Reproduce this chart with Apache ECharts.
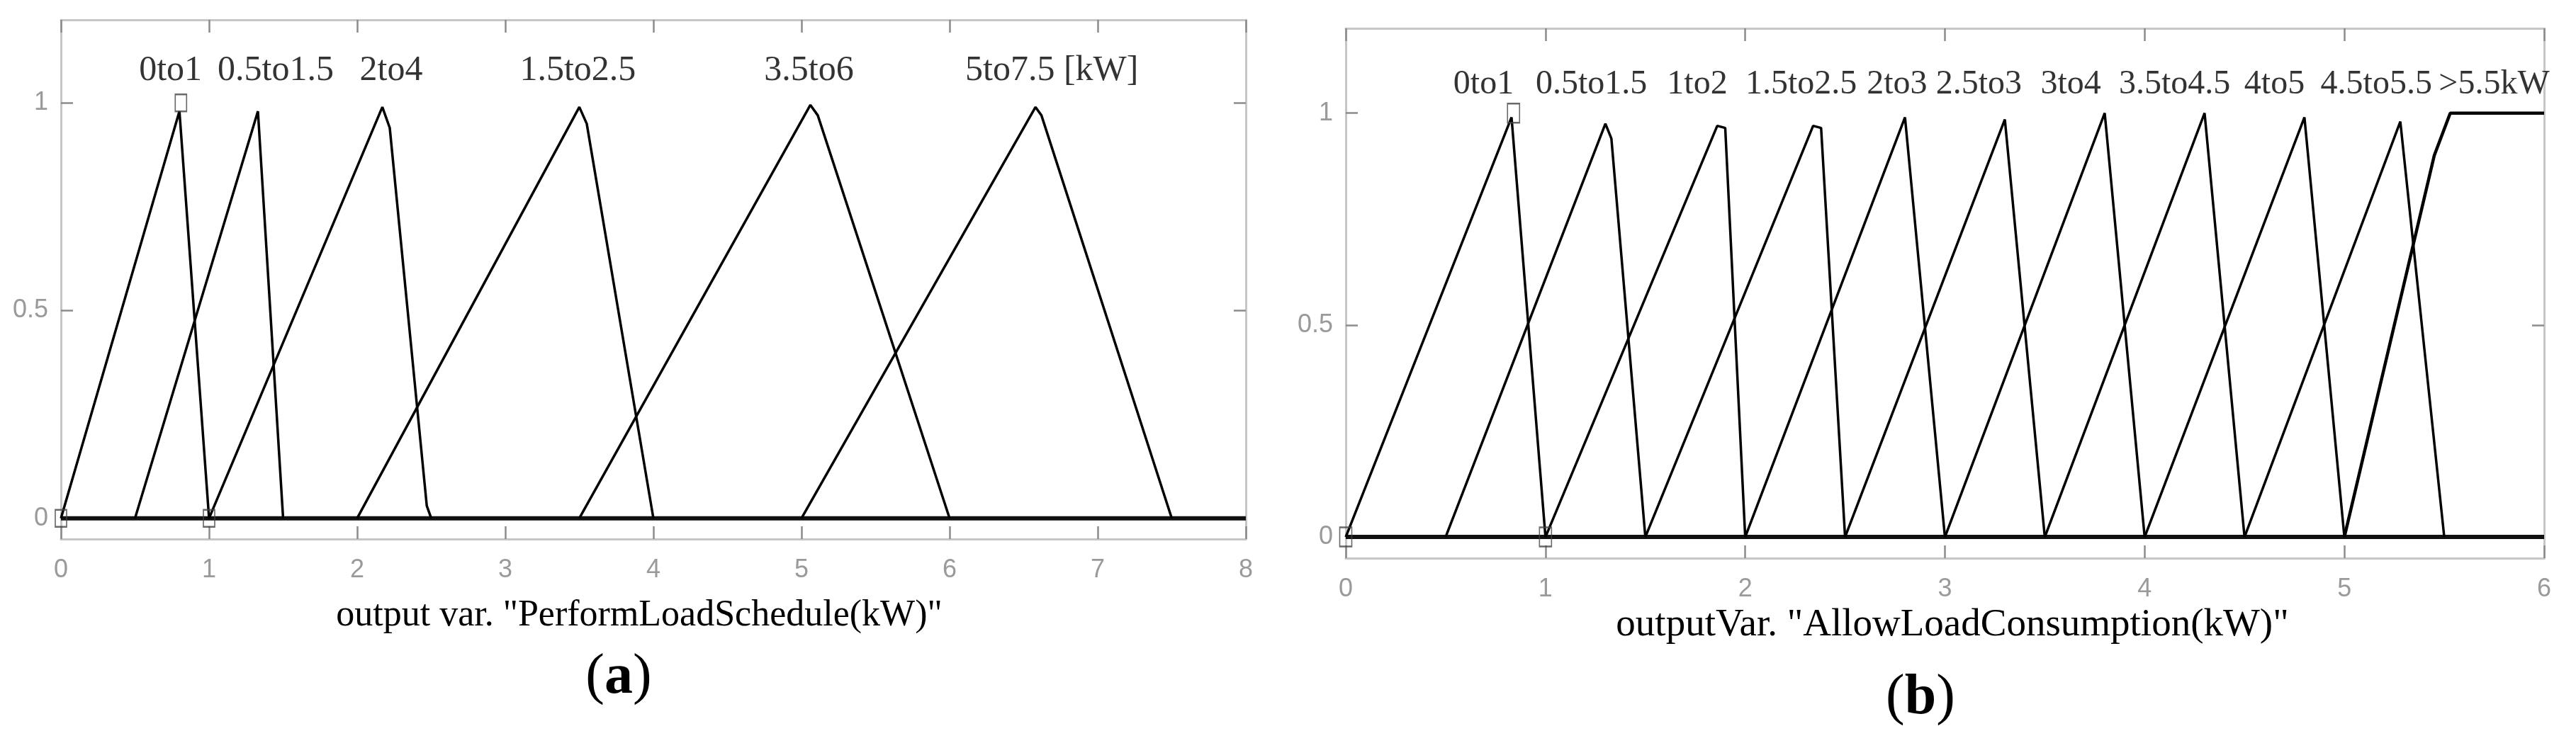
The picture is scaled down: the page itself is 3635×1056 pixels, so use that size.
<!DOCTYPE html>
<html>
<head>
<meta charset="utf-8">
<script src="https://cdn.jsdelivr.net/npm/echarts@6/dist/echarts.min.js"></script>
<style>
html,body{margin:0;padding:0;background:#fff;}
#c{width:3635px;height:1056px;}
</style>
</head>
<body>
<div id="c"></div>
<script>
// ---------- Data: panel (a) ----------
const domainA = [0, 8];
const namesA = ['0to1', '0.5to1.5', '2to4', '1.5to2.5', '3.5to6', '5to7.5 [kW]'];
const labelXA = [0.74, 1.45, 2.23, 3.49, 5.05, 6.69];
const mf_a_0to1     = [[0, 0], [0.80, 0.98], [1.0, 0]];
const mf_a_05to15   = [[0.5, 0], [1.33, 0.98], [1.5, 0]];
const mf_a_2to4     = [[1.0, 0], [2.17, 0.99], [2.22, 0.94], [2.47, 0.03], [2.5, 0]];
const mf_a_15to25   = [[2.0, 0], [3.50, 0.99], [3.55, 0.95], [4.0, 0]];
const mf_a_35to6    = [[3.5, 0], [5.06, 0.995], [5.11, 0.97], [6.0, 0]];
const mf_a_5to75    = [[5.0, 0], [6.58, 0.99], [6.62, 0.97], [7.5, 0]];
const mfA = [mf_a_0to1, mf_a_05to15, mf_a_2to4, mf_a_15to25, mf_a_35to6, mf_a_5to75];
const markersA = [[0, 0], [0.81, 1.0], [1, 0]];
const titleA = 'output var. "PerformLoadSchedule(kW)"';

// ---------- Data: panel (b) ----------
const domainB = [0, 6];
const namesB = ['0to1', '0.5to1.5', '1to2', '1.5to2.5', '2to3', '2.5to3', '3to4', '3.5to4.5', '4to5', '4.5to5.5', '>5.5kW'];
const labelXB = [0.69, 1.23, 1.76, 2.28, 2.76, 3.17, 3.63, 4.15, 4.65, 5.16, 5.75];
const mf_b_0to1   = [[0, 0], [0.83, 0.99], [1.0, 0]];
const mf_b_05to15 = [[0.5, 0], [1.30, 0.975], [1.33, 0.94], [1.5, 0]];
const mf_b_1to2   = [[1.0, 0], [1.86, 0.97], [1.90, 0.965], [2.0, 0]];
const mf_b_15to25 = [[1.5, 0], [2.34, 0.97], [2.38, 0.965], [2.5, 0]];
const mf_b_2to3   = [[2.0, 0], [2.80, 0.99], [3.0, 0]];
const mf_b_25to3  = [[2.5, 0], [3.30, 0.985], [3.5, 0]];
const mf_b_3to4   = [[3.0, 0], [3.80, 1.0], [4.0, 0]];
const mf_b_35to45 = [[3.5, 0], [4.30, 1.0], [4.5, 0]];
const mf_b_4to5   = [[4.0, 0], [4.80, 0.99], [5.0, 0]];
const mf_b_45to55 = [[4.5, 0], [5.28, 0.98], [5.5, 0]];
const mf_b_gt55   = [[5.0, 0], [5.45, 0.90], [5.53, 1.0], [6.0, 1.0]];
const mfB = [mf_b_0to1, mf_b_05to15, mf_b_1to2, mf_b_15to25, mf_b_2to3, mf_b_25to3,
             mf_b_3to4, mf_b_35to45, mf_b_4to5, mf_b_45to55, mf_b_gt55];
const markersB = [[0, 0], [0.84, 1.0], [1, 0]];
const titleB = 'outputVar. "AllowLoadConsumption(kW)"';

// ---------- Shared ----------
const yRange = [-0.05, 1.2];
const yTickValues = [0, 0.5, 1];
const xInterval = 1;
const labelYA = 1.078;
const labelYB = 1.067;

// ---------- Styling ----------
const borderColor = '#c6c6c6';
const tickColor = '#8c8c8c';
const tickLabelColor = '#9a9a9a';
const sansFont = 'Liberation Sans';
const serifFont = 'Liberation Serif';

function xAxes(gridIndex, dom, pos) {
  return {
    type: 'value', gridIndex: gridIndex, position: pos,
    min: dom[0], max: dom[1], interval: xInterval,
    splitLine: {show: false},
    axisLine: {show: true, onZero: false, lineStyle: {color: borderColor, width: 3}},
    axisTick: {show: true, inside: true, length: 18, lineStyle: {color: tickColor, width: 2.5}},
    axisLabel: {show: pos === 'bottom', margin: 26, color: tickLabelColor, fontFamily: sansFont, fontSize: 36}
  };
}
function yAxes(gridIndex, pos) {
  return {
    type: 'value', gridIndex: gridIndex, position: pos,
    min: yRange[0], max: yRange[1],
    splitLine: {show: false},
    axisLine: {show: true, onZero: false, lineStyle: {color: borderColor, width: 3}},
    axisTick: {show: true, inside: true, length: 17, customValues: yTickValues, lineStyle: {color: tickColor, width: 2.5}},
    axisLabel: {show: pos === 'left', margin: 18, color: tickLabelColor, fontFamily: sansFont, fontSize: 36,
                customValues: yTickValues, formatter: v => String(v)}
  };
}

const series = [];
function addPanel(mfs, names, labelX, labelY, markers, dom, xIdx, yIdx, labelSize, markerSize) {
  // zero membership across the whole universe of discourse
  series.push({
    type: 'line', xAxisIndex: xIdx, yAxisIndex: yIdx, symbol: 'none', silent: true,
    lineStyle: {color: '#111', width: 6}, data: [[dom[0], 0], [dom[1], 0]], z: 3
  });
  mfs.forEach((pts, i) => {
    series.push({
      type: 'line', name: names[i], xAxisIndex: xIdx, yAxisIndex: yIdx, symbol: 'none', silent: true,
      lineStyle: {color: '#000', width: (i === mfs.length - 1 && dom[1] === 6) ? 4.5 : 3.5},
      data: pts, z: 4
    });
  });
  series.push({
    type: 'scatter', xAxisIndex: xIdx, yAxisIndex: yIdx, symbolSize: 0, silent: true,
    data: names.map((n, i) => ({name: n, value: [labelX[i], labelY]})),
    label: {show: true, position: 'inside', formatter: p => p.name, color: '#000',
            fontFamily: serifFont, fontSize: labelSize}
  });
  series.push({
    type: 'scatter', xAxisIndex: xIdx, yAxisIndex: yIdx, symbol: 'rect', symbolSize: markerSize, silent: true,
    itemStyle: {color: 'rgba(0,0,0,0)', borderColor: '#444', borderWidth: 2},
    data: markers, z: 5
  });
}
addPanel(mfA, namesA, labelXA, labelYA, markersA, domainA, 0, 0, 50, [16, 24]);
addPanel(mfB, namesB, labelXB, labelYB, markersB, domainB, 2, 2, 48, [17, 27]);

const option = {
  backgroundColor: '#fff',
  animation: false,
  grid: [
    {left: 86, top: 28, width: 1672, height: 733},
    {left: 1899, top: 40, width: 1691, height: 748}
  ],
  xAxis: [xAxes(0, domainA, 'bottom'), xAxes(0, domainA, 'top'),
          xAxes(1, domainB, 'bottom'), xAxes(1, domainB, 'top')],
  yAxis: [yAxes(0, 'left'), yAxes(0, 'right'), yAxes(1, 'left'), yAxes(1, 'right')],
  graphic: [
    {type: 'text', style: {text: titleA, fontFamily: serifFont, fontSize: 52, fill: '#000',
      x: 902, y: 869, align: 'center', verticalAlign: 'middle'}},
    {type: 'text', style: {text: titleB, fontFamily: serifFont, fontSize: 55, fill: '#000',
      x: 2755, y: 883, align: 'center', verticalAlign: 'middle'}},
    {type: 'text', style: {text: '{p|(}{l|a}{p|)}', x: 873, y: 957, align: 'center', verticalAlign: 'middle',
      rich: {p: {fontFamily: serifFont, fontSize: 80, fill: '#000'}, l: {fontFamily: serifFont, fontSize: 80, fontWeight: 'bold', fill: '#000'}}}},
    {type: 'text', style: {text: '{p|(}{l|b}{p|)}', x: 2710, y: 986, align: 'center', verticalAlign: 'middle',
      rich: {p: {fontFamily: serifFont, fontSize: 80, fill: '#000'}, l: {fontFamily: serifFont, fontSize: 80, fontWeight: 'bold', fill: '#000'}}}}
  ],
  series: series
};

const chart = echarts.init(document.getElementById('c'), null, {renderer: 'canvas'});
chart.setOption(option);
</script>
</body>
</html>
